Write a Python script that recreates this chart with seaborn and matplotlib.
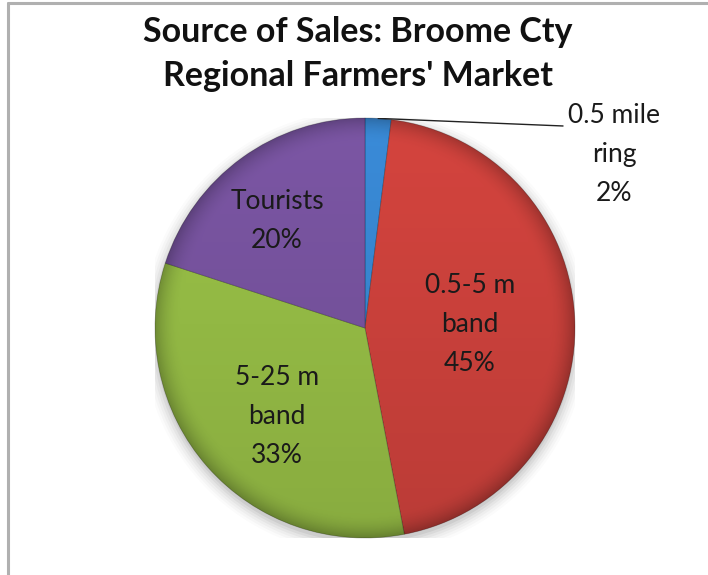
"""Source of sales pie for the Broome Cty regional farmers' market (saves out.png)."""

import matplotlib

matplotlib.use("Agg")
import matplotlib.pyplot as plt
import numpy as np
import seaborn as sns
from matplotlib.lines import Line2D
from matplotlib.patches import Circle

# slice order follows the picture: clockwise from 12 o'clock
CATEGORIES = ["0.5 mile\nring", "0.5-5 m\nband", "5-25 m\nband", "Tourists"]
SHARES = [2, 45, 33, 20]
SLICE_COLORS = ["#3A8BD8", "#D4443E", "#9BC348", "#7B56A4"]
TITLE = "Source of Sales: Broome Cty\nRegional Farmers' Market"

# where each inside label sits: (fraction of radius, angle nudge in degrees), Excel "best fit"-ish
LABEL_PLACE = [None, (0.50, 0.0), (0.595, 3.6), (0.66, 3.4)]

sns.set_theme(style="white")
plt.rcParams["font.family"] = ["Lato", "DejaVu Sans"]

W, H = 708, 575
fig = plt.figure(figsize=(W / 100, H / 100), dpi=100)
fig.patch.set_facecolor("white")

# pie box in pixels: centre (365, 328), radius 210
cx, cy, r = 365, 328, 210
ax = fig.add_axes([(cx - r) / W, (H - cy - r) / H, 2 * r / W, 2 * r / H])

# soft shadow under the pie
for k, a in enumerate(np.linspace(0.05, 0.015, 6)):
    ax.add_patch(Circle((0.0, -0.02), 1.0 + 0.012 * k, color="black", alpha=a, lw=0, zorder=0))

palette = sns.color_palette(SLICE_COLORS)
wedges, _ = ax.pie(
    SHARES,
    colors=palette,
    startangle=90,
    counterclock=False,
    radius=1.0,
    wedgeprops=dict(linewidth=0.6, edgecolor=(0, 0, 0, 0.25)),
)
for w in wedges:
    w.set_zorder(1)

# shading overlay: lighter top, darker bottom and rim (Excel-2007 look)
n = 400
yy, xx = np.mgrid[1:-1:n * 1j, -1:1:n * 1j]
rr = np.sqrt(xx**2 + yy**2)
shade = np.zeros((n, n, 4))
dark = 0.12 * (1 - yy) / 2 + 0.22 * np.clip((rr - 0.88) / 0.12, 0, 1) ** 2
shade[..., 3] = np.clip(dark, 0, 1)
img = ax.imshow(shade, extent=(-1, 1, -1, 1), zorder=2, interpolation="bilinear")
img.set_clip_path(Circle((0, 0), 1.0, transform=ax.transData))

ax.set_xlim(-1, 1)
ax.set_ylim(-1, 1)
ax.axis("off")

label_font = dict(fontsize=19, color="#1a1a1a", linespacing=1.7, zorder=3)
for i, (w, name, pct) in enumerate(zip(wedges, CATEGORIES, SHARES)):
    mid = np.deg2rad((w.theta1 + w.theta2) / 2)
    text = f"{name}\n{pct}%"
    if LABEL_PLACE[i] is None:
        # small slice: label outside with a leader line
        edge = (np.cos(mid), np.sin(mid))
        elbow = (0.943, 0.962)
        ax.add_line(Line2D([edge[0], elbow[0]], [edge[1], elbow[1]], color="#222222", lw=1.0, zorder=3))
        ax.text(1.186, 0.824, text, ha="center", va="center", clip_on=False, **label_font)
    else:
        d, nudge = LABEL_PLACE[i]
        a = mid + np.deg2rad(nudge)
        ax.text(d * np.cos(a), d * np.sin(a), text, ha="center", va="center", **label_font)

fig.text(0.505, 1 - 54 / H, TITLE, ha="center", va="center", fontsize=24.5,
         fontweight="bold", color="#111111", linespacing=1.5)

# chart frame (top and left edges visible in the crop)
fig.add_artist(Line2D([8 / W, 1], [1 - 3 / H, 1 - 3 / H], color="#b0b0b0", lw=2.2))
fig.add_artist(Line2D([8 / W, 8 / W], [0, 1 - 3 / H], color="#b0b0b0", lw=2.2))

fig.savefig("out.png", dpi=100)
plt.close(fig)
